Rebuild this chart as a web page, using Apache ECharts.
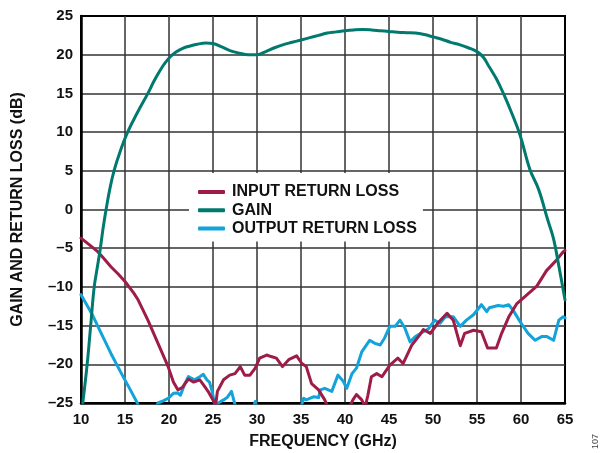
<!DOCTYPE html>
<html>
<head>
<meta charset="utf-8">
<script src="https://cdn.jsdelivr.net/npm/echarts@6/dist/echarts.min.js"></script>
<style>
  html, body { margin: 0; padding: 0; background: #fff; }
  #chart { width: 602px; height: 453px; }
</style>
</head>
<body>
<div id="chart"></div>
<script>
// Gain (dB) versus frequency (GHz)
const gainFreq = [10.2, 10.7, 11.1, 11.5, 11.85, 12.2, 12.5, 12.85, 13.25, 13.75, 14.45, 15.3, 16.4, 17.6, 18.3,
  19.0, 19.6, 20.2, 20.8, 21.5, 22.3, 23.2, 24.2, 25.0, 26.0, 27.0, 28.0, 29.0, 30.0, 31.0, 32.0, 33.0, 34.0,
  35.0, 36.0, 37.0, 38.0, 39.0, 40.0, 41.0, 42.0, 43.0, 44.0, 45.0, 46.0, 47.0, 48.0, 49.0, 50.0, 51.0,
  52.0, 53.0, 54.0, 55.0, 55.7, 56.4, 57.2, 58.0, 59.0, 59.9, 61.0, 62.0, 63.0, 63.7, 64.3, 65.0];
const gainDb = [-25, -20, -15, -10, -7.5, -5, -2.5, 0, 2.5, 5, 7.5, 10, 12.5, 15, 16.6,
  18.0, 19.0, 19.8, 20.35, 20.8, 21.1, 21.35, 21.5, 21.45, 21.0, 20.5, 20.2, 20.0, 20.0, 20.4, 20.9, 21.3, 21.6,
  21.9, 22.2, 22.5, 22.8, 22.95, 23.1, 23.2, 23.25, 23.2, 23.1, 23.0, 22.9, 22.85, 22.8, 22.6, 22.3, 22.0,
  21.6, 21.3, 20.9, 20.4, 19.7, 18.4, 16.9, 15.0, 12.3, 9.6, 5.2, 2.6, -1.2, -3.8, -7.3, -11.7];

// Input return loss (dB)
const inputFreq = [10.0, 11.0, 11.9, 12.5, 13.4, 14.2, 15.0, 16.0, 16.5, 17.6, 18.75, 19.9, 20.5, 21.0, 21.5,
  22.2, 22.8, 23.5, 24.0, 24.5, 25.0, 25.3, 25.5, 26.2, 26.9, 27.5, 28.1, 28.6, 29.2, 29.8, 30.3, 31.1,
  31.6, 32.2, 32.9, 33.6, 34.5, 35.1, 35.6, 36.2, 37.0, 37.7, 38.2, 39.5, 40.5, 40.9, 41.3, 41.9, 42.3,
  42.6, 43.0, 43.6, 44.2, 45.1, 46.0, 46.6, 47.6, 48.5, 48.9, 49.7, 50.6, 51.6, 52.3, 53.1, 53.6, 54.6,
  55.5, 56.2, 57.2, 57.8, 58.6, 59.5, 60.7, 61.8, 62.9, 63.9, 64.8, 65.0];
const inputDb = [-3.7, -4.6, -5.45, -6.2, -7.4, -8.3, -9.3, -10.8, -11.7, -14.3, -17.3, -20.3, -22.3, -23.3, -23.0,
  -21.9, -22.3, -22.0, -22.8, -23.6, -24.6, -25.3, -23.5, -22.0, -21.4, -21.2, -20.3, -21.4, -21.4, -20.5, -19.2, -18.8,
  -19.0, -19.2, -20.3, -19.4, -18.9, -19.9, -20.3, -22.5, -23.3, -24.6, -26.0, -27.0, -25.5, -24.6, -23.9, -24.6, -25.5,
  -24.0, -21.6, -21.2, -21.6, -20.1, -19.2, -19.9, -17.5, -16.2, -15.5, -16.0, -14.6, -13.4, -14.3, -17.6, -16.0, -15.6,
  -15.8, -17.9, -17.9, -16.0, -13.9, -12.2, -11.0, -9.9, -7.9, -6.7, -5.45, -5.3];

// Output return loss (dB)
const outputFreq = [10.0, 11.2, 12.3, 13.4, 14.6, 15.7, 16.4, 17.0, 18.0, 18.75, 19.4, 19.9, 20.5, 21.0, 21.3,
  21.8, 22.2, 22.9, 23.5, 23.9, 24.3, 24.6, 24.9, 25.2, 25.6, 26.2, 26.6, 27.1, 27.5, 28.0, 29.5, 29.8,
  30.1, 31.0, 33.0, 35.0, 35.3, 35.6, 36.4, 37.0, 37.2, 37.7, 38.5, 39.2, 39.8, 40.2, 40.8, 41.3, 41.9,
  42.8, 43.4, 44.0, 44.5, 45.1, 45.7, 46.25, 46.8, 47.4, 48.0, 48.9, 49.5, 50.2, 50.8, 51.4, 52.3, 53.1,
  53.8, 54.6, 55.5, 56.1, 56.4, 57.4, 58.0, 58.6, 59.1, 59.9, 60.8, 61.6, 62.4, 62.9, 63.7, 64.3, 64.8, 65.0];
const outputDb = [-11.0, -13.4, -16.0, -18.6, -21.2, -23.5, -25.0, -26.5, -27.0, -25.0, -24.7, -24.4, -23.75, -23.7, -24.0,
  -22.5, -21.6, -22.0, -21.6, -21.3, -22.0, -22.3, -23.5, -25.2, -25.0, -24.6, -24.3, -23.5, -25.2, -26.5, -26.0, -24.8,
  -26.0, -27.5, -27.5, -25.5, -24.4, -24.6, -24.2, -24.3, -23.3, -23.1, -23.5, -21.4, -22.2, -23.1, -21.2, -20.5, -18.4,
  -16.9, -17.3, -17.5, -16.6, -15.1, -15.1, -14.3, -15.3, -17.1, -16.4, -15.8, -15.4, -14.3, -14.7, -13.85, -13.85, -15.1,
  -14.3, -13.6, -12.3, -13.2, -12.7, -12.4, -12.5, -12.3, -13.0, -14.5, -16.0, -16.9, -16.4, -16.4, -16.9, -14.3, -13.85, -14.0];

const seriesNames = ['INPUT RETURN LOSS', 'GAIN', 'OUTPUT RETURN LOSS'];
const seriesColors = { 'INPUT RETURN LOSS': '#9e1c48', 'GAIN': '#00796f', 'OUTPUT RETURN LOSS': '#12a3da' };

const zip = (xs, ys) => xs.map((x, i) => [x, ys[i]]);
const font = '"Liberation Sans", Arial, Helvetica, sans-serif';
const dash = v => String(v).replace('-', '\u2013');

const lineSeries = (name, data, smooth) => ({
  name, type: 'line', data, smooth, showSymbol: false, symbol: 'none',
  clip: true,
  lineStyle: { width: 3, color: seriesColors[name], join: 'round', cap: 'round' },
  itemStyle: { color: seriesColors[name] }
});

const chart = echarts.init(document.getElementById('chart'), null, { renderer: 'canvas' });
chart.setOption({
  animation: false,
  backgroundColor: '#fff',
  grid: {
    left: 81, right: 37, top: 16, bottom: 50,
    outerBoundsMode: 'none', containLabel: false,
    show: true, borderColor: '#000', borderWidth: 2
  },
  legend: {
    data: seriesNames,
    orient: 'vertical',
    left: 189, top: 173,
    backgroundColor: '#fff',
    padding: [11, 6, 5, 9],
    itemWidth: 27, itemHeight: 4, itemGap: 2.3,
    icon: 'roundRect',
    textStyle: { fontFamily: font, fontWeight: 'bold', fontSize: 16, color: '#111', lineHeight: 16, padding: [0, 0, 0, 2] }
  },
  xAxis: {
    type: 'value', min: 10, max: 65, interval: 5,
    name: 'FREQUENCY (GHz)', nameLocation: 'middle', nameGap: 31,
    nameTextStyle: { fontFamily: font, fontWeight: 'bold', fontSize: 16, color: '#111' },
    axisLine: { show: true, onZero: false, lineStyle: { color: '#000', width: 2.5 } },
    axisTick: { show: false },
    axisLabel: { fontFamily: font, fontWeight: 'bold', fontSize: 15, color: '#111', margin: 9, formatter: dash },
    splitLine: { show: true, showMinLine: false, showMaxLine: false, lineStyle: { color: '#333', width: 1.5 } }
  },
  yAxis: {
    type: 'value', min: -25, max: 25, interval: 5,
    name: 'GAIN AND RETURN LOSS (dB)', nameLocation: 'middle', nameGap: 55, nameRotate: 90,
    nameTextStyle: { fontFamily: font, fontWeight: 'bold', fontSize: 16, color: '#111' },
    axisLine: { show: true, onZero: false, lineStyle: { color: '#000', width: 2.5 } },
    axisTick: { show: false },
    axisLabel: { fontFamily: font, fontWeight: 'bold', fontSize: 15, color: '#111', margin: 8, formatter: dash },
    splitLine: { show: true, showMinLine: false, showMaxLine: false, lineStyle: { color: '#333', width: 1.5 } }
  },
  graphic: [{
    type: 'text', right: 2, bottom: 4, rotation: Math.PI / 2,
    style: { text: '107', fontFamily: font, fontSize: 9, fill: '#444' }
  }],
  series: [
    lineSeries('OUTPUT RETURN LOSS', zip(outputFreq, outputDb), false),
    lineSeries('INPUT RETURN LOSS', zip(inputFreq, inputDb), false),
    lineSeries('GAIN', zip(gainFreq, gainDb), 0.4)
  ]
});
</script>
</body>
</html>
